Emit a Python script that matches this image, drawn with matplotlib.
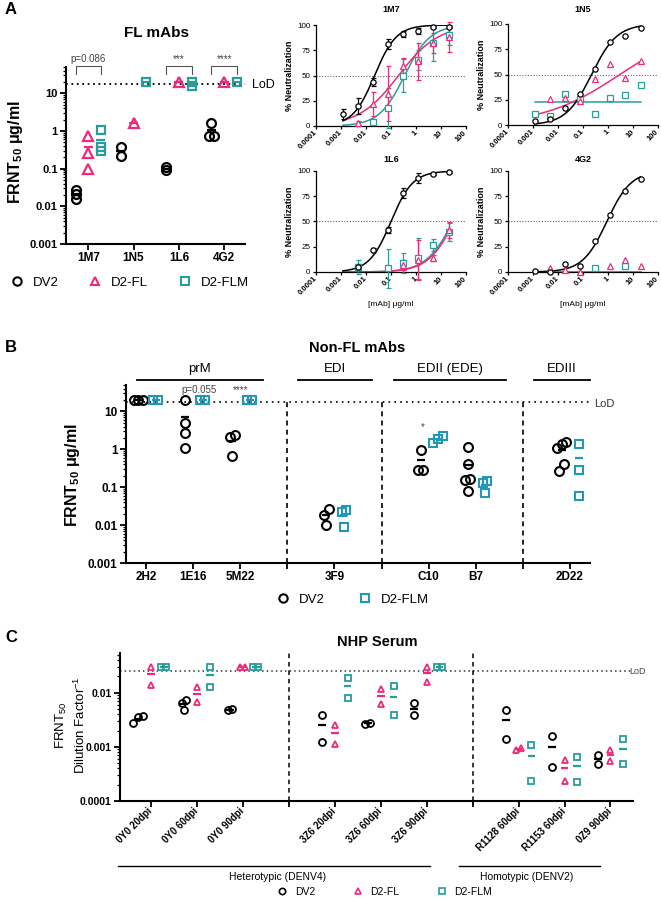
import numpy as np
import matplotlib
matplotlib.use("Agg")
import matplotlib.pyplot as plt
from matplotlib.lines import Line2D
from matplotlib.ticker import LogLocator, NullFormatter, NullLocator

plt.rcParams['font.family'] = ['Liberation Sans', 'DejaVu Sans']
plt.rcParams['mathtext.default'] = 'regular'

W, H = 661, 899
PINK = '#ee2a7b'
TEAL = '#2a9d98'
TEAL_B = '#2397b8'

# ---------------- panel A, left: FRNT50 of FL mAbs ----------------
A_MABS = ['1M7', '1N5', '1L6', '4G2']
A_DV2 = [[0.027, 0.021, 0.0155], [0.37, 0.22], [0.108, 0.092], [1.66, 0.75, 0.72]]
A_FL = [[0.75, 0.255, 0.1], [1.66], [20], [20]]
A_FLM = [[1.06, 0.37, 0.30], [20], [20, 16], [20]]
A_SIG = ['p=0.086', '', '***', '****']
LOD_MAB = 17.3

# ---------------- panel A, right: neutralization curves ----------------
CONC = [20, 5, 1.25, 0.3125, 0.078, 0.0195, 0.0049, 0.0012]
nan = np.nan
N_1M7_DV2 = [98, 98, 94, 91, 81, 44, 20, 12]
N_1M7_DV2_SD = [1, 1, 3, 3, 5, 4, 8, 5]
N_1M7_FL = [88, 82, 64, 59, 32, 22, 3, nan]
N_1M7_FL_SD = [15, 10, 18, 8, 27, 12, 2, 0]
N_1M7_FLM = [90, 82, 65, 50, 18, 4, nan, nan]
N_1M7_FLM_SD = [10, 18, 10, 16, 20, 3, 0, 0]
N_1N5_DV2 = [96, 88, 82, 55, 31, 17, 6, 3.6]
N_1N5_FL = [63, 47, 60, 45.5, 23.4, 27, 26, nan]
N_1N5_FLM = [40, 30, 27, 11, 26, 31, 8.6, 11]
N_1L6_DV2 = [99, 97, 93, 78, 41.6, 22, 5, nan]
N_1L6_DV2_SD = [1, 1, 5, 5, 3, 2, 3, 0]
N_1L6_FL = [41.6, 13.5, 12, 7, nan, nan, nan, nan]
N_1L6_FL_SD = [8, 3, 20, 5, 0, 0, 0, 0]
N_1L6_FLM = [40, 27, 13.5, 8.6, 3.6, nan, 4.6, nan]
N_1L6_FLM_SD = [9, 6, 20, 10, 19, 0, 7, 0]
N_4G2_DV2 = [92, 80, 56, 30.5, 5.6, 8.3, 0, 0.7]
N_4G2_FL = [5.6, 12, 5.6, nan, 0, 2, 4, nan]
N_4G2_FLM = [nan, 6, nan, 3.5, nan, nan, nan, nan]
# fitted curves: (IC50, hill, bottom, top) for DV2, D2-FL, D2-FLM
FIT_1M7 = [(0.022, 1.0, 0, 100), (0.2, 0.55, 0, 100), (0.35, 0.85, 0, 100)]
FIT_1N5 = [(0.22, 0.85, 0, 100), (3.0, 0.28, 0, 100), (1.0, 1.0, 23, 23)]
FIT_1L6 = [(0.1, 1.0, 0, 100), (35, 0.8, 0, 100), (30, 0.8, 0, 100)]
FIT_4G2 = [(0.9, 0.9, 0, 100), (1.0, 1.0, 0, 0), None]

# ---------------- panel B: non-FL mAbs ----------------
B_MABS = ['2H2', '1E16', '5M22', '', '3F9', '', 'C10', 'B7', '', '2D22']
B_DV2 = [[20, 20, 20], [20, 4.9, 2.66, 1.1], [2.35, 2.1, 0.68], [],
         [0.027, 0.018, 0.01], [], [0.96, 0.29, 0.29],
         [1.15, 0.4, 0.17, 0.16, 0.08], [], [1.55, 1.35, 1.1, 0.4, 0.27]]
B_FLM = [[20, 20], [20, 20], [20, 20], [], [0.0245, 0.022, 0.0089], [],
         [2.25, 1.85, 1.5], [0.145, 0.126, 0.071], [], [1.4, 0.29, 0.06]]
B_GROUPS = ['prM', 'EDI', 'EDII (EDE)', 'EDIII']

# ---------------- panel C: NHP serum ----------------
C_SERA = ['0Y0 20dpi', '0Y0 60dpi', '0Y0 90dpi', '', '3Z6 20dpi', '3Z6 60dpi',
          '3Z6 90dpi', '', 'R1128 60dpi', 'R1153 60dpi', '0Z9 90dpi']
C_DV2 = [[0.0037, 0.0035, 0.0027], [0.0073, 0.0065, 0.0047], [0.0049, 0.0047], [],
         [0.0038, 0.00123], [0.0028, 0.0026], [0.0064, 0.0038], [],
         [0.0048, 0.0014], [0.00158, 0.00043], [0.00072, 0.00048]]
C_FL = [[0.03, 0.014], [0.0125, 0.0066], [0.03, 0.03], [],
        [0.0025, 0.00112], [0.0115, 0.0062], [0.03, 0.0158], [],
        [0.00094, 0.00087], [0.00057, 0.00023], [0.00087, 0.00055]]
C_FLM = [[0.03, 0.03], [0.03, 0.0129], [0.03, 0.03], [],
         [0.0187, 0.0079], [0.013, 0.0038], [0.03, 0.03], [],
         [0.0011, 0.00023], [0.00065, 0.00022], [0.00137, 0.00049]]
LOD_SERUM = 0.025

fig = plt.figure(figsize=(W / 100, H / 100), dpi=100)


def px_axes(x0, y0, x1, y1):
    return fig.add_axes([x0 / W, 1 - y1 / H, (x1 - x0) / W, (y1 - y0) / H])


def ftext(x, y, s, **kw):
    kw.setdefault('ha', 'center')
    kw.setdefault('va', 'center')
    fig.text(x / W, 1 - y / H, s, **kw)


def fline(x0, x1, y, lw=1.3):
    fig.add_artist(Line2D([x0 / W, x1 / W], [1 - y / H] * 2, color='k', lw=lw))


def swarm(vals, tol, step):
    # spread points with nearly equal values sideways
    v = np.log10(np.asarray(vals, float))
    order = np.argsort(v)
    offs = np.zeros(len(v))
    clusters, cur = [], [order[0]]
    for a, b in zip(order[:-1], order[1:]):
        if v[b] - v[a] < tol:
            cur.append(b)
        else:
            clusters.append(cur)
            cur = [b]
    clusters.append(cur)
    for c in clusters:
        for k, idx in enumerate(c):
            offs[idx] = (k - (len(c) - 1) / 2) * step
    return offs


def dots(ax, groups, shift, color, marker, ms, mew, tol, step, bar_w):
    for i, vals in enumerate(groups):
        if not vals:
            continue
        xs = i + shift + swarm(vals, tol, step)
        m = np.mean(vals)
        ax.plot([i + shift - bar_w / 2, i + shift + bar_w / 2], [m, m], color=color,
                lw=1.6, solid_capstyle='butt', zorder=2, clip_on=False)
        ax.plot(xs, vals, ls='none', marker=marker, ms=ms, mew=mew, mfc='none',
                mec=color, clip_on=False, zorder=3)


def dot_axes(ax, cats, ylim, yticks, ylabels, xlim, tfs, xfs, rot=False):
    ax.set_yscale('log')
    ax.set_ylim(*ylim)
    ax.set_yticks(yticks)
    ax.set_yticklabels(ylabels, fontsize=tfs, fontweight='bold')
    ax.yaxis.set_minor_locator(LogLocator(base=10, subs=np.arange(2, 10)))
    ax.yaxis.set_minor_formatter(NullFormatter())
    ax.set_xlim(*xlim)
    ax.set_xticks(range(len(cats)))
    if rot:
        ax.set_xticklabels(cats, fontsize=xfs, fontweight='bold', rotation=45,
                           ha='right', va='center', rotation_mode='anchor')
    else:
        ax.set_xticklabels(cats, fontsize=xfs, fontweight='bold')
    for s in ('top', 'right'):
        ax.spines[s].set_visible(False)
    for s in ('left', 'bottom'):
        ax.spines[s].set_linewidth(1.5)
    ax.tick_params(which='major', width=1.3, length=4, pad=2)
    ax.tick_params(which='minor', width=0.9, length=2)
    ax.set_facecolor('none')


def logistic(x, ic50, hill, bottom, top):
    return bottom + (top - bottom) / (1 + (ic50 / x) ** hill)


def neut(ax, series, fits, title, ty, xlabel):
    x = np.array(CONC)
    xx = np.logspace(np.log10(min(CONC)), np.log10(max(CONC)), 200)
    for (vals, sd, color, marker), fit in zip(series, fits):
        v = np.array(vals, float)
        ok = ~np.isnan(v)
        if fit is not None:
            ax.plot(xx, logistic(xx, *fit), color=color, lw=1.1, zorder=2)
        if sd is not None:
            ax.errorbar(x[ok], v[ok], yerr=np.array(sd, float)[ok], fmt='none', ecolor=color,
                        elinewidth=0.9, capsize=1.8, capthick=0.9, zorder=3, clip_on=False)
        ax.plot(x[ok], v[ok], ls='none', marker=marker, ms=3.8, mew=0.9, mfc='white',
                mec=color, zorder=4, clip_on=False)
    ax.axhline(50, color='#666', ls=(0, (1, 1.5)), lw=0.8, zorder=1)
    ax.set_xscale('log')
    ax.set_xlim(1e-4, 100)
    ax.set_ylim(0, 100)
    ax.set_xticks([1e-4, 1e-3, 1e-2, 0.1, 1, 10, 100])
    ax.set_xticklabels(['0.0001', '0.001', '0.01', '0.1', '1', '10', '100'], fontsize=5.5,
                       fontweight='bold', rotation=45, ha='right', va='center',
                       rotation_mode='anchor')
    ax.xaxis.set_minor_locator(NullLocator())
    ax.set_yticks([0, 25, 50, 75, 100])
    ax.set_yticklabels(['0', '25', '50', '75', '100'], fontsize=5.8)
    for s in ('top', 'right'):
        ax.spines[s].set_visible(False)
    for s in ('left', 'bottom'):
        ax.spines[s].set_linewidth(0.9)
    ax.tick_params(width=0.9, length=2.5, pad=1.5)
    bb = ax.get_position()
    fig.text(bb.x0 - 26 / W, (bb.y0 + bb.y1) / 2, '% Neutralization', rotation=90,
             ha='center', va='center', fontsize=6.5, fontweight='bold')
    fig.text((bb.x0 + bb.x1) / 2, 1 - ty / H, title, ha='center', va='center',
             fontsize=6.5, fontweight='bold')
    if xlabel:
        fig.text((bb.x0 + bb.x1) / 2, bb.y0 - 33 / H, '[mAb] μg/ml', ha='center',
                 va='center', fontsize=6)


# ===== panel A left =====
ax = px_axes(66, 67, 245, 244)
dot_axes(ax, A_MABS, (0.001, 50), [0.001, 0.01, 0.1, 1, 10],
         ['0.001', '0.01', '0.1', '1', '10'], (-0.49, 3.46), 8, 8.5)
ax.axhline(LOD_MAB, color='k', ls=(0, (1, 2)), lw=1.3, zorder=1)
dots(ax, A_DV2, -0.28, 'k', 'o', 6.4, 1.6, 0.05, 0.12, 0.2)
dots(ax, A_FL, 0.0, PINK, '^', 6.6, 1.6, 0.05, 0.12, 0.2)
dots(ax, A_FLM, 0.28, TEAL, 's', 6.0, 1.6, 0.05, 0.12, 0.2)
tr = ax.get_xaxis_transform()
for i, s in enumerate(A_SIG):
    if s:
        ax.plot([i - 0.28, i - 0.28, i + 0.28, i + 0.28], [0.96, 1.006, 1.006, 0.96],
                color='#555', lw=0.8, transform=tr, clip_on=False)
        ax.text(i, 1.045, s, transform=tr, ha='center', va='center', fontsize=7, color='#444')
ftext(263, 85, 'LoD', fontsize=9)
ftext(156, 33, 'FL mAbs', fontsize=11, fontweight='bold')
ftext(16, 152, 'FRNT$_{50}$ μg/ml', rotation=90, fontsize=11.5, fontweight='bold')
ftext(11, 10, 'A', fontsize=12, fontweight='bold')
hA = [Line2D([], [], ls='none', marker=m, ms=6, mew=1.5, mfc='none', mec=c)
      for m, c in (('o', 'k'), ('^', PINK), ('s', TEAL))]
fig.legend(hA, ['DV2', 'D2-FL', 'D2-FLM'], loc='center', ncol=3, frameon=False,
           bbox_to_anchor=(129 / W, 1 - 283 / H), fontsize=9.5, handlelength=1.2,
           handletextpad=0.6, columnspacing=2.2)

# ===== panel A right =====
neut(px_axes(316, 25, 466, 126),
     [(N_1M7_FLM, N_1M7_FLM_SD, TEAL, 's'), (N_1M7_FL, N_1M7_FL_SD, PINK, '^'),
      (N_1M7_DV2, N_1M7_DV2_SD, 'k', 'o')],
     [FIT_1M7[2], FIT_1M7[1], FIT_1M7[0]], '1M7', 10, False)
neut(px_axes(508, 24, 658, 125),
     [(N_1N5_FLM, None, TEAL, 's'), (N_1N5_FL, None, PINK, '^'), (N_1N5_DV2, None, 'k', 'o')],
     [FIT_1N5[2], FIT_1N5[1], FIT_1N5[0]], '1N5', 10, False)
neut(px_axes(316, 171, 466, 272),
     [(N_1L6_FLM, N_1L6_FLM_SD, TEAL, 's'), (N_1L6_FL, N_1L6_FL_SD, PINK, '^'),
      (N_1L6_DV2, N_1L6_DV2_SD, 'k', 'o')],
     [FIT_1L6[2], FIT_1L6[1], FIT_1L6[0]], '1L6', 160, True)
neut(px_axes(508, 171, 658, 272),
     [(N_4G2_FLM, None, TEAL, 's'), (N_4G2_FL, None, PINK, '^'), (N_4G2_DV2, None, 'k', 'o')],
     [FIT_4G2[2], FIT_4G2[1], FIT_4G2[0]], '4G2', 160, True)

# ===== panel B =====
ax = px_axes(126, 385, 590, 563)
dot_axes(ax, B_MABS, (0.001, 50), [0.001, 0.01, 0.1, 1, 10],
         ['0.001', '0.01', '0.1', '1', '10'], (-0.43, 9.43), 8.5, 8.5)
ax.axhline(LOD_MAB, color='k', ls=(0, (1, 2.5)), lw=1.2, zorder=1)
ax.vlines([i for i, c in enumerate(B_MABS) if not c], 0.001, LOD_MAB, colors='k',
          linestyles=(0, (3, 2.5)), lw=1.2, zorder=1)
dots(ax, B_DV2, -0.17, 'k', 'o', 6.4, 1.5, 0.2, 0.1, 0.17)
dots(ax, B_FLM, 0.2, TEAL_B, 's', 6.0, 1.5, 0.2, 0.1, 0.17)
trb = ax.get_xaxis_transform()
ax.text(1.13, 0.972, 'p=0.055', transform=trb, ha='center', va='center', fontsize=7, color='#444')
ax.text(2.0, 0.972, '****', transform=trb, ha='center', va='center', fontsize=7, color='#444')
ax.text(5.87, 0.765, '*', transform=trb, ha='center', va='center', fontsize=7, color='#444')
ftext(604, 404, 'LoD', fontsize=8, color='#333')
for name, (x0, x1) in zip(B_GROUPS, [(137, 263), (298, 372), (394, 506), (534, 590)]):
    fline(x0, x1, 380)
    ftext((x0 + x1) / 2, 369, name, fontsize=9.5)
ftext(357, 348, 'Non-FL mAbs', fontsize=10.5, fontweight='bold')
ftext(72, 475, 'FRNT$_{50}$ μg/ml', rotation=90, fontsize=11.5, fontweight='bold')
ftext(11, 347, 'B', fontsize=12, fontweight='bold')
hB = [Line2D([], [], ls='none', marker=m, ms=6, mew=1.5, mfc='none', mec=c)
      for m, c in (('o', 'k'), ('s', TEAL_B))]
fig.legend(hB, ['DV2', 'D2-FLM'], loc='center', ncol=2, frameon=False,
           bbox_to_anchor=(352 / W, 1 - 600 / H), fontsize=9.5, handlelength=1.2,
           handletextpad=0.6, columnspacing=2.5)

# ===== panel C =====
ax = px_axes(120, 653, 633, 801)
dot_axes(ax, C_SERA, (1e-4, 0.054), [1e-4, 1e-3, 1e-2], ['0.0001', '0.001', '0.01'],
         (-0.67, 10.49), 7.5, 7, rot=True)
ax.axhline(LOD_SERUM, color='#333', ls=(0, (1, 2)), lw=1.1, zorder=1)
for i, c in enumerate(C_SERA):
    if not c:
        ax.axvline(i, color='k', ls=(0, (3, 2.5)), lw=1.1, zorder=1)
dots(ax, C_DV2, -0.28, 'k', 'o', 5, 1.3, 0.13, 0.1, 0.17)
dots(ax, C_FL, 0.0, PINK, '^', 5, 1.3, 0.13, 0.1, 0.17)
dots(ax, C_FLM, 0.28, TEAL, 's', 5, 1.3, 0.13, 0.1, 0.17)
ftext(637, 671, 'LoD', fontsize=6.5, color='#444')
ftext(377, 642, 'NHP Serum', fontsize=10.5, fontweight='bold')
ftext(71, 725, 'FRNT$_{50}$\nDilution Factor$^{-1}$', rotation=90, fontsize=9.5,
      multialignment='center', linespacing=1.3)
ftext(11, 638, 'C', fontsize=12, fontweight='bold')
fline(118, 430, 866, lw=1.0)
ftext(278, 877, 'Heterotypic (DENV4)', fontsize=7.5)
fline(459, 600, 866, lw=1.0)
ftext(527, 877, 'Homotypic (DENV2)', fontsize=7.5)
hC = [Line2D([], [], ls='none', marker=m, ms=4.5, mew=1.2, mfc='none', mec=c)
      for m, c in (('o', 'k'), ('^', PINK), ('s', TEAL))]
fig.legend(hC, ['DV2', 'D2-FL', 'D2-FLM'], loc='center', ncol=3, frameon=False,
           bbox_to_anchor=(384 / W, 1 - 892 / H), fontsize=7.5, handlelength=1.2,
           handletextpad=0.6, columnspacing=3.5)

fig.savefig('out.png', dpi=100)
